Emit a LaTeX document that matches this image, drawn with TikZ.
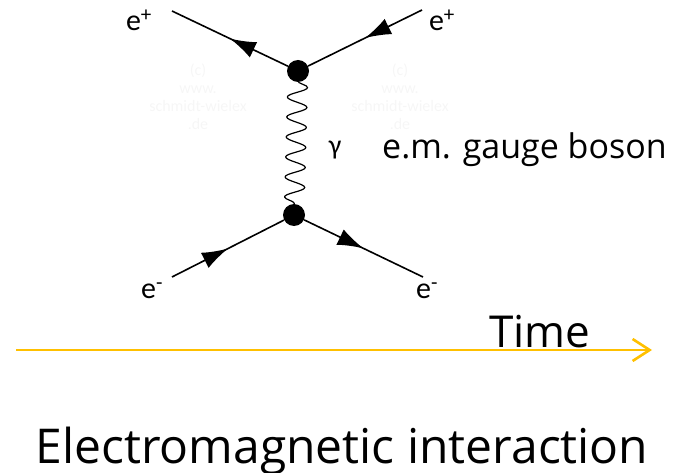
\documentclass[tikz,border=0pt]{standalone}
\usepackage{fontspec}
\setmainfont{Carlito}
\newfontfamily\handfont{Open Sans}
\usetikzlibrary{arrows.meta,decorations.pathmorphing,decorations.markings}
\definecolor{timeyellow}{HTML}{FFC000}
\definecolor{watermark}{HTML}{F6F6F6}

\begin{document}
\begin{tikzpicture}[
  x=1pt,
  y=-1pt,
  line join=round,
  fermion/.style={draw=black,line width=1.6pt,
    postaction={decorate,decoration={markings,
      mark=at position 0.5 with {\arrow{Latex[length=26pt,width=17pt]}}}}},
  photon/.style={draw=black,line width=1.2pt,
    decorate,decoration={snake,amplitude=10pt,segment length=20pt,pre length=10pt,post length=10pt}},
  vertex/.style={circle,fill=black,inner sep=0pt,minimum size=22pt},
  particle/.style={font=\fontsize{30}{30}\selectfont,inner sep=0pt},
  mark text/.style={text=watermark,font=\fontsize{16}{18}\selectfont,align=center,inner sep=0pt},
  timeaxis/.style={draw=timeyellow,line width=2.6pt,-{Straight Barb[length=17pt,width=22pt,line width=2.6pt]}}
]
  \useasboundingbox (0,0) rectangle (685,473);

  % Faint copyright marks behind the diagram.
  \node[mark text] (markL) at (198,97) {(c)\\www.\\schmidt-wielex\\.de};
  \node[mark text] (markR) at (400,97) {(c)\\www.\\schmidt-wielex\\.de};

  % Outer ends of the fermion lines.
  \coordinate (inTL) at (172,11);
  \coordinate (inTR) at (422,10);
  \coordinate (inBL) at (172,277);
  \coordinate (inBR) at (423,277);

  % Photon exchange.
  \draw[photon] (298,71) -- (294,215);
  \node[vertex] (vtop) at (298,71) {};
  \node[vertex] (vbot) at (294,215) {};

  \draw[fermion] (vtop) -- (inTL);
  \draw[fermion] (inTR) -- (vtop);
  \draw[fermion] (inBL) -- (vbot);
  \draw[fermion] (vbot) -- (inBR);

  \node[particle] (posL) at (139,20) {e\textsuperscript{+}};
  \node[particle] (posR) at (442,20) {e\textsuperscript{+}};
  \node[particle] (eleL) at (152,291) {e\textsuperscript{-}};
  \node[particle] (eleR) at (427,291) {e\textsuperscript{-}};

  \node[font=\fontsize{28}{28}\selectfont,inner sep=0pt] (gam) at (335,150) {γ};
  \node[font=\handfont\fontsize{34}{34}\selectfont,anchor=west,inner sep=0pt] (boson) at (382,150) {e.m. gauge boson};

  % Time direction.
  \coordinate (tstart) at (16,350);
  \coordinate (tend) at (652,350);
  \draw[timeaxis] (tstart) -- (tend);
  \node[font=\handfont\fontsize{44}{44}\selectfont,anchor=base,inner sep=0pt] (time) at (540,347) {Time};

  \node[font=\handfont\fontsize{48}{48}\selectfont,anchor=base,inner sep=0pt] (title) at (342,463) {Electromagnetic interaction};
\end{tikzpicture}
\end{document}
